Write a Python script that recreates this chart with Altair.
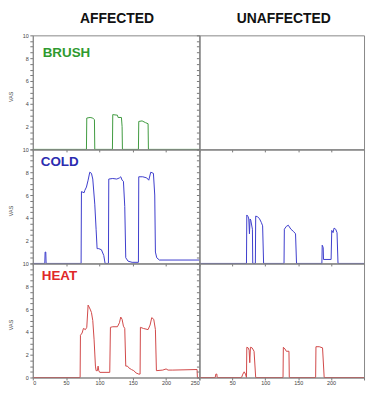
import altair as alt
import pandas as pd

# ---- data ----
x_ticks = [0, 50, 100, 150, 200, 250]
y_ticks = [i * 0.5 for i in range(21)]

columns = ["AFFECTED", "UNAFFECTED"]
conditions = ["BRUSH", "COLD", "HEAT"]

brush_aff_x = [0, 80.5, 81, 86, 90, 92.5, 93, 119.5, 120, 127, 128, 133, 134, 134.5, 158.5, 159, 164, 169, 173, 173.5, 250]
brush_aff_y = [0, 0, 2.75, 2.8, 2.75, 2.6, 0, 0, 3.05, 3.0, 2.8, 2.8, 2.0, 0, 0, 2.45, 2.5, 2.35, 2.25, 0, 0]

brush_unaff_x = []
brush_unaff_y = []

cold_aff_x = [0, 18, 18.5, 19.5, 20, 72.5, 73, 77, 78, 80.5, 83, 85.5, 88, 90, 93, 95, 96.5, 99, 103, 106.5, 108.5,
              113.5, 114, 120, 126, 130, 132, 134, 136, 138, 139.5, 143, 149, 158.5, 159, 165, 171, 174, 177, 181,
              183, 184, 186, 190, 250]
cold_aff_y = [0, 0, 1.0, 1.0, 0, 0, 6.3, 6.2, 6.4, 6.7, 7.3, 8.0, 7.9, 7.4, 5.2, 3.0, 1.3, 1.3, 1.2, 0.7, 0,
              0, 7.4, 7.45, 7.4, 7.5, 7.6, 7.3, 7.2, 5.0, 0.5, 0.2, 0.1, 0.1, 7.6, 7.6, 7.5, 7.3, 8.0, 7.9,
              6.0, 1.0, 0.5, 0.3, 0.3]

cold_unaff_x = [0, 71.5, 72, 74, 75, 76, 77, 78, 80.5, 81, 85, 85.5, 88, 91, 94, 96, 97.5, 128.5, 129, 132, 135,
                139, 143, 146, 147.5, 186, 186.5, 188, 188.5, 200, 201, 203, 204.5, 207, 209, 210.5, 250]
cold_unaff_y = [0, 0, 4.25, 4.1, 3.9, 2.6, 3.9, 3.8, 3.0, 0, 0, 4.15, 4.1, 3.95, 3.6, 3.3, 0, 0, 3.0, 3.25, 3.35,
                3.0, 2.8, 2.6, 0, 0, 1.6, 1.4, 0.35, 0.35, 2.9, 2.7, 3.1, 3.0, 2.7, 0, 0]

heat_aff_x = [0, 71, 71.5, 74, 76, 79, 81, 83, 86, 88, 90, 92, 94, 95, 97, 98, 99, 100.5, 115.5, 116.5, 120, 127,
              130, 132, 134, 136, 138, 139.5, 142, 144, 148, 151.5, 155, 159, 161, 161.5, 166, 173, 176, 178.5,
              181.5, 184, 185.5, 195, 200, 203, 210, 246.5, 247, 250]
heat_aff_y = [0, 0, 3.7, 3.9, 4.3, 4.2, 4.4, 6.35, 6.0, 5.7, 5.0, 3.3, 1.0, 0.6, 0.6, 1.0, 0.6, 0.45, 0.45, 4.4,
              4.45, 4.45, 4.8, 5.3, 5.1, 4.5, 4.3, 1.0, 1.0, 0.85, 0.7, 0.6, 0.4, 0.3, 0.3, 4.4, 4.3, 4.2, 4.6,
              5.25, 5.1, 4.2, 0.6, 0.65, 0.75, 0.65, 0.65, 0.7, 0, 0]

heat_unaff_x = [0, 24, 25, 26.5, 27, 64, 66, 68, 70, 71.5, 72, 74, 75.5, 76.5, 77.5, 80, 83, 85.5, 127, 127.5, 130,
                132, 136, 136.5, 176.5, 177, 182, 187, 189.5, 250]
heat_unaff_y = [0, 0, 0.3, 0.3, 0, 0, 0.3, 0.5, 0.3, 0, 2.65, 2.6, 2.4, 1.3, 2.65, 2.6, 2.3, 0, 0, 2.65, 2.5,
                2.3, 2.3, 0, 0, 2.7, 2.7, 2.6, 0, 0]

series = {
    ("BRUSH", "AFFECTED"): (brush_aff_x, brush_aff_y),
    ("BRUSH", "UNAFFECTED"): (brush_unaff_x, brush_unaff_y),
    ("COLD", "AFFECTED"): (cold_aff_x, cold_aff_y),
    ("COLD", "UNAFFECTED"): (cold_unaff_x, cold_unaff_y),
    ("HEAT", "AFFECTED"): (heat_aff_x, heat_aff_y),
    ("HEAT", "UNAFFECTED"): (heat_unaff_x, heat_unaff_y),
}

rows = []
for (cond, side), (xs, ys) in series.items():
    for i, (xv, yv) in enumerate(zip(xs, ys)):
        rows.append({"panel": cond + "|" + side, "t": xv, "vas": yv, "i": i})
df = pd.DataFrame(rows, columns=["panel", "t", "vas", "i"])

line_colors = {"BRUSH": "#3f9a3f", "COLD": "#3d3dcc", "HEAT": "#d04848"}
text_colors = {"BRUSH": "#2f9a2f", "COLD": "#2c2cb0", "HEAT": "#e02828"}
label_pos = {"BRUSH": (10, 17.5), "COLD": (8, 13), "HEAT": (9, 13)}

FONT = "Liberation Sans"
panel_h = 115
widths = [168, 166]


def make_panel(r, c):
    cond = conditions[r]
    side = columns[c]
    key = cond + "|" + side
    bottom = r == 2
    left = c == 0
    if left:
        xlab = "datum.label"
    else:
        xlab = "datum.value == 0 || datum.value == 250 ? '' : datum.label"
    xaxis = alt.Axis(values=x_ticks, labels=bottom, labelExpr=xlab, tickSize=2.5, title="",
                     labelFontSize=5.5, labelPadding=0.5, grid=False, zindex=1)
    if bottom:
        ylab = "datum.value % 2 == 0 ? format(datum.value, 'd') : ''"
    else:
        ylab = "datum.value % 2 == 0 && datum.value > 0 ? format(datum.value, 'd') : ''"
    if left:
        yaxis = alt.Axis(values=y_ticks, labelExpr=ylab,
                         tickSize=3, labelFontSize=5.5, labelPadding=1.5, grid=False,
                         title="VAS", titleFontSize=5.5, titleX=-19, titleY=panel_h / 2 + 4,
                         titleFontWeight="normal", titleColor="#444", zindex=1)
    else:
        yaxis = alt.Axis(values=y_ticks, labels=False, tickSize=3, grid=False, title="", zindex=1)

    line = alt.Chart(df).transform_filter(alt.datum.panel == key).mark_line(
        color=line_colors[cond], strokeWidth=1, interpolate="linear"
    ).encode(
        x=alt.X("t:Q", scale=alt.Scale(domain=[0, 250], nice=False, zero=False), axis=xaxis),
        y=alt.Y("vas:Q", scale=alt.Scale(domain=[0, 10], nice=False, zero=False), axis=yaxis),
        order="i:Q",
    )
    layers = [line]
    if left:
        lx, ly = label_pos[cond]
        txt = alt.Chart(pd.DataFrame({"lab": [cond]})).mark_text(
            align="left", baseline="middle", font=FONT, fontSize=13.5, fontWeight="bold",
            color=text_colors[cond]
        ).encode(text="lab:N", x=alt.value(lx), y=alt.value(ly))
        layers.append(txt)
    if r == 0:
        head = alt.Chart(pd.DataFrame({"h": [side]})).mark_text(
            align="center", baseline="alphabetic", font=FONT, fontSize=14, fontWeight="bold",
            color="#111"
        ).encode(text="h:N", x=alt.value(widths[c] / 2 + (1 if c == 0 else 2)), y=alt.value(-12.5))
        layers.append(head)
    ch = alt.layer(*layers).properties(width=widths[c], height=panel_h)
    return ch


panels = [make_panel(r, c) for r in range(3) for c in range(2)]

chart = alt.concat(*panels, columns=2, spacing=0, bounds="flush").configure(
    padding={"left": 0, "top": 2, "right": 0, "bottom": 0},
    font=FONT,
).configure_view(
    stroke="#888", strokeWidth=1
).configure_axis(
    domainColor="#888", tickColor="#777", labelColor="#444", labelFont=FONT
)

chart.save("out.html", embed_options={"renderer": "svg", "actions": False})
